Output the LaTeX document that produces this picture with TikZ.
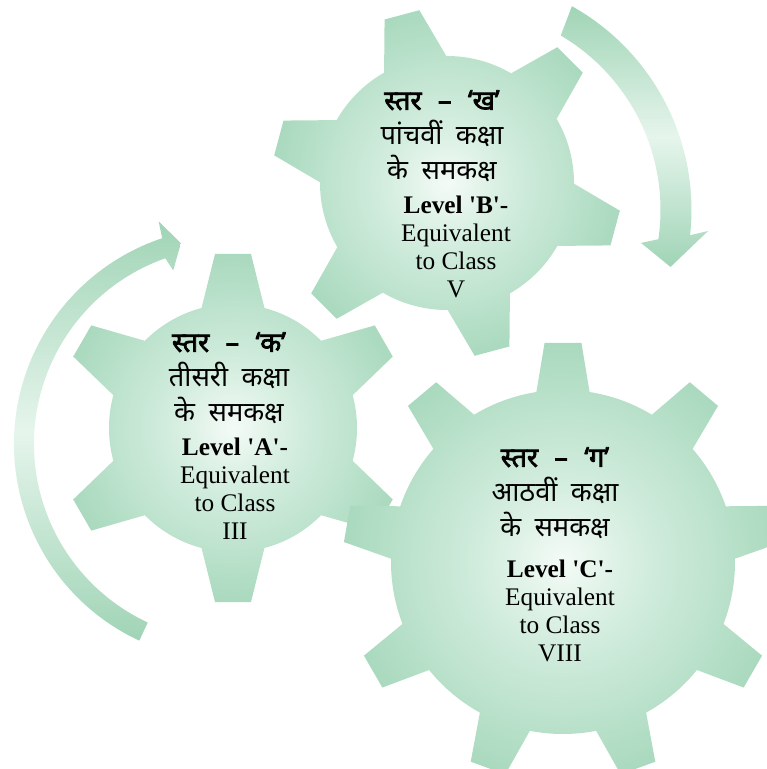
\documentclass[tikz,border=0pt]{standalone}
\usepackage{fontspec}
\newfontfamily\hindi[Script=Devanagari,WordSpace={1.9,0,0},BoldFont={Noto Sans},BoldFeatures={FakeBold=2.5}]{Noto Sans}
\newfontfamily\engfont{Liberation Serif}

\definecolor{gearcore}{HTML}{F4FBF7}
\definecolor{gearmid}{HTML}{D3EDDE}
\definecolor{gearedge}{HTML}{A9D9BE}
\definecolor{arrowend}{HTML}{A0D4B6}
\definecolor{arrowmid}{HTML}{E6F5EC}

\pgfdeclareradialshading{gearfill}{\pgfpoint{0bp}{0bp}}{color(0bp)=(gearcore); color(9bp)=(gearmid); color(25bp)=(gearedge); color(50bp)=(gearedge)}

\newcommand{\dashgap}{\hspace{0.6em}}

\tikzset{
  gearbody/.style={shading=gearfill},
  arrowband/.style={top color=arrowend, bottom color=arrowend, middle color=arrowmid},
  hinlines/.style={font=\hindi\fontsize{15.5}{19.8}\selectfont, align=center, inner sep=0pt},
  englines/.style={font=\engfont\fontsize{14.4}{15.9}\selectfont, align=center, inner sep=0pt},
  % body radius/tip radius/first angle/spacing/teeth/tip half-angle/base half-angle
  pics/cog/.style args={#1/#2/#3/#4/#5/#6/#7}{
    code={
      \path[gearbody] (-#2,-#2) (#2,#2) (0,0) circle (#1)
        foreach \k [evaluate=\k as \a using #3+(\k-1)*#4] in {1,...,#5} {
          (\a-#7:#1-20) -- (\a-#7:#1) -- (\a-#6:#2) -- (\a+#6:#2) -- (\a+#7:#1) -- (\a+#7:#1-20) -- cycle
        };
    }
  },
}

\begin{document}
\begin{tikzpicture}[x=0.02cm, y=0.02cm]
  \useasboundingbox (0,0) rectangle (767,769);

  % Gears
  \pic at (233,341) {cog=124/175/30/60/6/5.9/14.7};
  \pic at (447,586) {cog=127/175/-15/60/6/5.9/14.7};
  \pic at (563,207) {cog=172/220/10/40/9/4.8/8.9};

  % Left arrow
  \begin{scope}[shift={(231,325)}]
    \path[arrowband] (245:197) -- (245:217) arc[start angle=245, end angle=108.5, radius=217]
      -- (108:234) -- (104:207) -- (108.4:183) -- (109.5:197)
      arc[start angle=109.5, end angle=245, radius=197] -- cycle;
  \end{scope}

  % Right arrow
  \begin{scope}[shift={(458,559)}]
    \path[arrowband] (59.5:202.5) -- (60.8:233.5) arc[start angle=60.8, end angle=-6.2, radius=233.5]
      -- (-4.8:251) -- (-15:220) -- (-10.2:186) -- (-8.3:202.5)
      arc[start angle=-8.3, end angle=59.5, radius=202.5] -- cycle;
  \end{scope}

  % Texts
  \node[hinlines] (hinA) at (229,391) {\textbf{स्तर\dashgap–\dashgap‘क’}\\तीसरी कक्षा\\के समकक्ष};
  \node[englines] (engA) at (235,280) {\textbf{Level 'A'-}\\Equivalent\\to Class\\III};

  \node[hinlines] (hinB) at (442,633) {\textbf{स्तर\dashgap–\dashgap‘ख’}\\पांचवीं कक्षा\\के समकक्ष};
  \node[englines] (engB) at (456,522) {\textbf{Level 'B'-}\\Equivalent\\to Class\\V};

  \node[hinlines] (hinC) at (555,276) {\textbf{स्तर\dashgap–\dashgap‘ग’}\\आठवीं कक्षा\\के समकक्ष};
  \node[englines] (engC) at (560,158) {\textbf{Level 'C'-}\\Equivalent\\to Class\\VIII};
\end{tikzpicture}
\end{document}
